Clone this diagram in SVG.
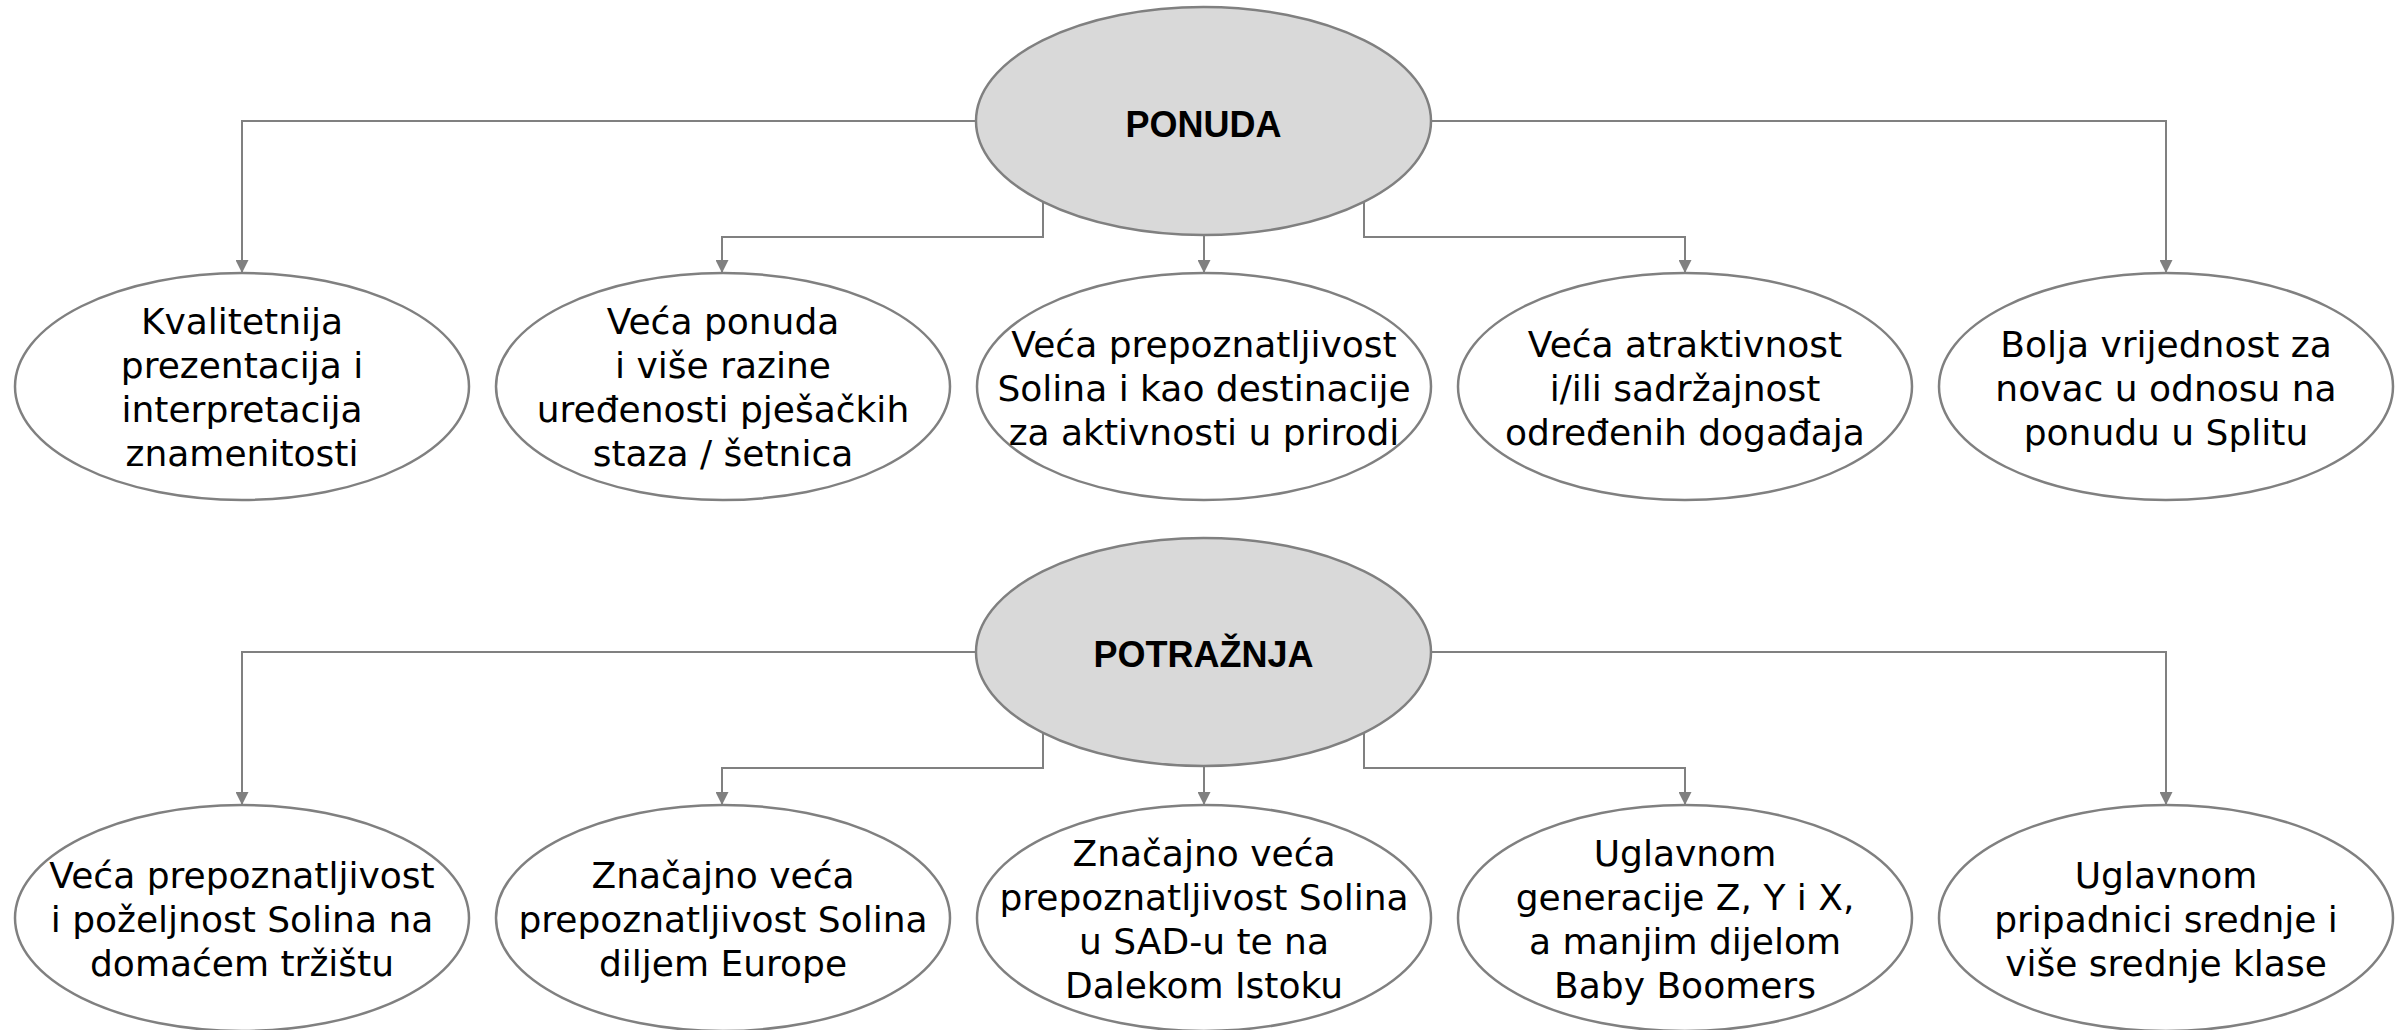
<svg xmlns="http://www.w3.org/2000/svg" width="2405" height="1030" viewBox="0 0 2405 1030">
<style>
.conn{fill:none;stroke:#808080;stroke-width:2}
.leaf{fill:#ffffff;stroke:#808080;stroke-width:2.5}
.hub{fill:#d9d9d9;stroke:#808080;stroke-width:2.5}
.t{font-family:"DejaVu Sans","Liberation Sans",sans-serif;font-size:36px;fill:#000;text-anchor:middle}
.h{font-family:"Liberation Sans",Arial,sans-serif;font-size:36px;font-weight:bold;fill:#000;text-anchor:middle}
</style>
<defs>
<marker id="arr" viewBox="0 0 10 10" refX="10" refY="5" markerWidth="13" markerHeight="13" markerUnits="userSpaceOnUse" orient="auto">
<path d="M0,0 L10,5 L0,10 z" fill="#808080"/>
</marker>
</defs>
<rect width="2405" height="1030" fill="#ffffff"/>
<g id="connectors">
<path class="conn" d="M976,121 H242 V273" marker-end="url(#arr)"/>
<path class="conn" d="M1043,200 V237 H722 V273" marker-end="url(#arr)"/>
<path class="conn" d="M1204,233 V273" marker-end="url(#arr)"/>
<path class="conn" d="M1364,200 V237 H1685 V273" marker-end="url(#arr)"/>
<path class="conn" d="M1431,121 H2166 V273" marker-end="url(#arr)"/>
<path class="conn" d="M976,652 H242 V805" marker-end="url(#arr)"/>
<path class="conn" d="M1043,731 V768 H722 V805" marker-end="url(#arr)"/>
<path class="conn" d="M1204,764 V805" marker-end="url(#arr)"/>
<path class="conn" d="M1364,731 V768 H1685 V805" marker-end="url(#arr)"/>
<path class="conn" d="M1431,652 H2166 V805" marker-end="url(#arr)"/>
</g>
<g id="ponuda">
<ellipse class="hub" cx="1203.5" cy="121" rx="227.5" ry="114"/>
<text class="h" x="1203.5" y="137">PONUDA</text>
</g>
<g id="p1">
<ellipse class="leaf" cx="242" cy="386.5" rx="227" ry="113.5"/>
<text class="t" x="242" y="334">Kvalitetnija</text>
<text class="t" x="242" y="378">prezentacija i</text>
<text class="t" x="242" y="422">interpretacija</text>
<text class="t" x="242" y="466">znamenitosti</text>
</g>
<g id="p2">
<ellipse class="leaf" cx="723" cy="386.5" rx="227" ry="113.5"/>
<text class="t" x="723" y="334">Veća ponuda</text>
<text class="t" x="723" y="378">i više razine</text>
<text class="t" x="723" y="422">uređenosti pješačkih</text>
<text class="t" x="723" y="466">staza / šetnica</text>
</g>
<g id="p3">
<ellipse class="leaf" cx="1204" cy="386.5" rx="227" ry="113.5"/>
<text class="t" x="1204" y="357">Veća prepoznatljivost</text>
<text class="t" x="1204" y="401">Solina i kao destinacije</text>
<text class="t" x="1204" y="445">za aktivnosti u prirodi</text>
</g>
<g id="p4">
<ellipse class="leaf" cx="1685" cy="386.5" rx="227" ry="113.5"/>
<text class="t" x="1685" y="357">Veća atraktivnost</text>
<text class="t" x="1685" y="401">i/ili sadržajnost</text>
<text class="t" x="1685" y="445">određenih događaja</text>
</g>
<g id="p5">
<ellipse class="leaf" cx="2166" cy="386.5" rx="227" ry="113.5"/>
<text class="t" x="2166" y="357">Bolja vrijednost za</text>
<text class="t" x="2166" y="401">novac u odnosu na</text>
<text class="t" x="2166" y="445">ponudu u Splitu</text>
</g>
<g id="potraznja">
<ellipse class="hub" cx="1203.5" cy="652" rx="227.5" ry="114"/>
<text class="h" x="1203.5" y="667">POTRAŽNJA</text>
</g>
<g id="d1">
<ellipse class="leaf" cx="242" cy="918" rx="227" ry="113"/>
<text class="t" x="242" y="888">Veća prepoznatljivost</text>
<text class="t" x="242" y="932">i poželjnost Solina na</text>
<text class="t" x="242" y="976">domaćem tržištu</text>
</g>
<g id="d2">
<ellipse class="leaf" cx="723" cy="918" rx="227" ry="113"/>
<text class="t" x="723" y="888">Značajno veća</text>
<text class="t" x="723" y="932">prepoznatljivost Solina</text>
<text class="t" x="723" y="976">diljem Europe</text>
</g>
<g id="d3">
<ellipse class="leaf" cx="1204" cy="918" rx="227" ry="113"/>
<text class="t" x="1204" y="866">Značajno veća</text>
<text class="t" x="1204" y="910">prepoznatljivost Solina</text>
<text class="t" x="1204" y="954">u SAD-u te na</text>
<text class="t" x="1204" y="998">Dalekom Istoku</text>
</g>
<g id="d4">
<ellipse class="leaf" cx="1685" cy="918" rx="227" ry="113"/>
<text class="t" x="1685" y="866">Uglavnom</text>
<text class="t" x="1685" y="910">generacije Z, Y i X,</text>
<text class="t" x="1685" y="954">a manjim dijelom</text>
<text class="t" x="1685" y="998">Baby Boomers</text>
</g>
<g id="d5">
<ellipse class="leaf" cx="2166" cy="918" rx="227" ry="113"/>
<text class="t" x="2166" y="888">Uglavnom</text>
<text class="t" x="2166" y="932">pripadnici srednje i</text>
<text class="t" x="2166" y="976">više srednje klase</text>
</g>
</svg>
